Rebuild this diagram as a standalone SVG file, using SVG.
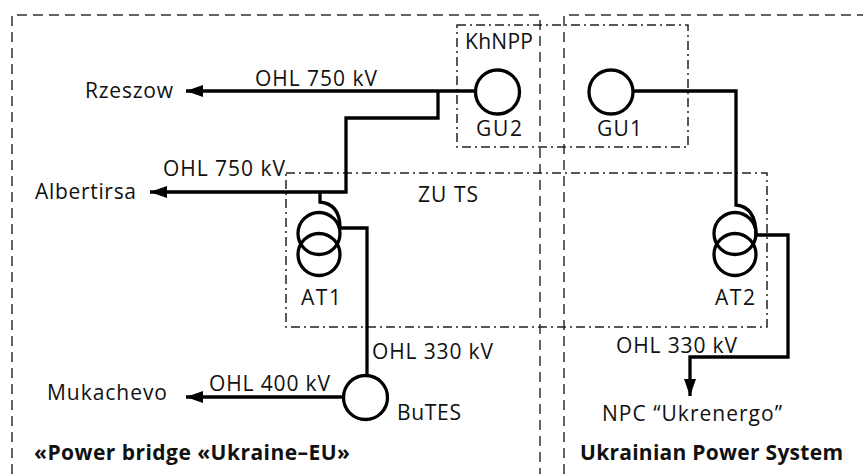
<svg xmlns="http://www.w3.org/2000/svg" width="863" height="474" viewBox="0 0 863 474">
<style>
text{font-family:"Open Sans","Lato","Liberation Sans",sans-serif;font-size:21px;fill:#111}
.b{font-weight:700}
.dash{fill:none;stroke:#333;stroke-width:1.5;stroke-dasharray:10 6}
.dd{fill:none;stroke:#222;stroke-width:1.5;stroke-dasharray:9 4 2 4}
.w{fill:none;stroke:#000;stroke-width:3.3}
.n{fill:#fff;stroke:#000;stroke-width:3.3}
.t{fill:none;stroke:#000;stroke-width:3.3}
</style>
<defs>
<marker id="a" markerUnits="userSpaceOnUse" markerWidth="18" markerHeight="12" refX="17" refY="6" orient="auto"><path d="M0 0L17 6L0 12Z" fill="#000"/></marker>
</defs>
<g id="regions">
<path class="dash" d="M12 474V15H540V474"/>
<path class="dash" d="M564 474V15H863"/>
<rect class="dd" x="457" y="25" width="231" height="122"/>
<rect class="dd" x="286" y="173" width="481" height="154"/>
</g>
<g id="connectors">
<path class="w" d="M476 91H186" marker-end="url(#a)"/>
<path class="w" d="M438 91V118H346V192H150" marker-end="url(#a)"/>
<path class="w" d="M320 192V202Q340 204 340 228H367V376"/>
<path class="w" d="M343 397H186" marker-end="url(#a)"/>
<path class="w" d="M633 91H736V205Q756 207 756 235H788V357H690V396" marker-end="url(#a)"/>
</g>
<g id="GU2"><circle class="n" cx="497.500" cy="92" r="22"/><text x="476" y="136" textLength="46">GU2</text></g>
<g id="GU1"><circle class="n" cx="611" cy="92" r="22"/><text x="597" y="136" textLength="45">GU1</text></g>
<g id="AT1"><circle class="t" cx="319" cy="233.500" r="21"/><circle class="t" cx="319" cy="254.500" r="21"/><text x="301" y="305" textLength="40">AT1</text></g>
<g id="AT2"><circle class="t" cx="735" cy="233.500" r="21"/><circle class="t" cx="735" cy="254.500" r="21"/><text x="715" y="305" textLength="40">AT2</text></g>
<g id="BuTES"><circle class="n" cx="365.500" cy="397.500" r="22"/><text x="397" y="420" textLength="64">BuTES</text></g>
<g id="labels">
<text x="85" y="98" textLength="88">Rzeszow</text>
<text x="35" y="199" textLength="101">Albertirsa</text>
<text x="47" y="400" textLength="120">Mukachevo</text>
<text x="255" y="86" textLength="122">OHL 750 kV</text>
<text x="163" y="176" textLength="122">OHL 750 kV</text>
<text x="209" y="391" textLength="121">OHL 400 kV</text>
<text x="372" y="359" textLength="121">OHL 330 kV</text>
<text x="616" y="353" textLength="121">OHL 330 kV</text>
<text x="465" y="49" textLength="68">KhNPP</text>
<text x="418" y="202" textLength="60">ZU TS</text>
<text x="602" y="421" textLength="180">NPC “Ukrenergo”</text>
<text class="b" x="34" y="460" textLength="316">«Power bridge «Ukraine–EU»</text>
<text class="b" x="580" y="460" textLength="263">Ukrainian Power System</text>
</g>
</svg>
